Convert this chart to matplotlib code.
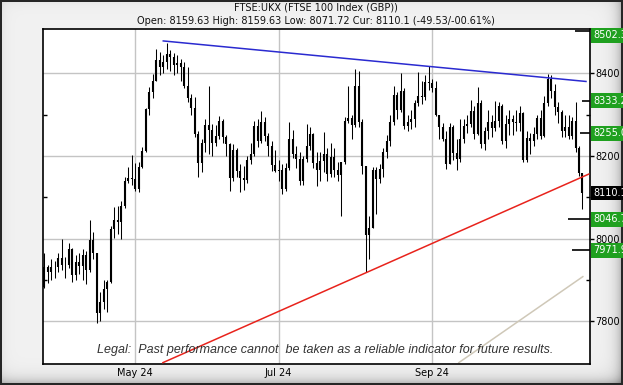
import numpy as np
import pandas as pd
import matplotlib
matplotlib.use("Agg")
import matplotlib.pyplot as plt
import matplotlib.transforms as mtransforms

# ---------------- data ----------------
holidays = ["2024-03-29", "2024-04-01", "2024-05-06", "2024-05-27", "2024-08-26"]
dates = pd.bdate_range("2024-03-22", "2024-10-31", freq="C", holidays=holidays)

opens = [7882, 7931, 7918, 7931, 7932, 7953, 7935, 7937, 7975, 7911,
         7943, 7934, 7961, 7924, 7996, 7965, 7820, 7847, 7877, 7896,
         8024, 8044, 8040, 8079, 8139, 8147, 8144, 8121, 8172, 8213,
         8313, 8354, 8381, 8433, 8415, 8428, 8446, 8439, 8420, 8424,
         8416, 8370, 8339, 8317, 8254, 8183, 8231, 8275, 8262, 8232,
         8247, 8285, 8245, 8228, 8147, 8215, 8163, 8146, 8142, 8191,
         8205, 8272, 8237, 8281, 8247, 8225, 8179, 8164, 8166, 8121,
         8171, 8241, 8204, 8193, 8139, 8193, 8223, 8253, 8182, 8165,
         8187, 8204, 8155, 8198, 8167, 8153, 8186, 8285, 8292, 8274,
         8368, 8283, 8175, 8008, 8026, 8166, 8145, 8168, 8210, 8235,
         8281, 8347, 8311, 8356, 8273, 8283, 8289, 8327, 8345, 8343,
         8379, 8377, 8364, 8298, 8269, 8241, 8181, 8271, 8206, 8193,
         8240, 8273, 8278, 8309, 8254, 8328, 8229, 8259, 8283, 8268,
         8284, 8320, 8237, 8276, 8290, 8282, 8280, 8303, 8191, 8243,
         8237, 8254, 8292, 8249, 8329, 8385, 8358, 8318, 8306, 8259,
         8269, 8248, 8285, 8220, 8159.63]
highs = [7964, 7936, 7950, 7945, 7966, 8000, 7955, 7990, 7978, 7960,
         7965, 7975, 7970, 8045, 8015, 7966, 7870, 7900, 7900, 8030,
         8076, 8080, 8090, 8149, 8173, 8202, 8183, 8185, 8221, 8315,
         8366, 8398, 8458, 8451, 8445, 8474, 8456, 8450, 8445, 8435,
         8426, 8414, 8350, 8342, 8260, 8240, 8290, 8370, 8277, 8275,
         8296, 8290, 8250, 8230, 8229, 8220, 8180, 8175, 8200, 8230,
         8284, 8290, 8309, 8295, 8255, 8236, 8215, 8190, 8180, 8182,
         8282, 8262, 8225, 8209, 8200, 8277, 8270, 8255, 8210, 8210,
         8258, 8220, 8230, 8220, 8185, 8173, 8294, 8368, 8300, 8410,
         8405, 8290, 8176, 8054, 8173, 8173, 8180, 8220, 8250, 8300,
         8368, 8354, 8400, 8365, 8300, 8310, 8335, 8402, 8380, 8395,
         8417, 8385, 8380, 8300, 8280, 8260, 8280, 8275, 8240, 8290,
         8290, 8300, 8335, 8320, 8367, 8335, 8270, 8310, 8300, 8332,
         8330, 8325, 8300, 8310, 8300, 8310, 8320, 8305, 8260, 8255,
         8270, 8300, 8310, 8345, 8398, 8395, 8375, 8330, 8310, 8300,
         8300, 8294, 8330, 8225, 8159.63]
lows = [7880, 7893, 7900, 7905, 7920, 7925, 7905, 7930, 7895, 7900,
        7915, 7900, 7890, 7920, 7950, 7796, 7800, 7830, 7822, 7893,
        8002, 8010, 8000, 8075, 8135, 8130, 8115, 8112, 8170, 8210,
        8300, 8340, 8380, 8395, 8400, 8410, 8405, 8395, 8400, 8380,
        8365, 8330, 8300, 8246, 8149, 8160, 8210, 8204, 8200, 8225,
        8240, 8230, 8200, 8116, 8140, 8149, 8112, 8118, 8135, 8180,
        8199, 8221, 8230, 8235, 8200, 8163, 8160, 8140, 8108, 8115,
        8165, 8195, 8170, 8130, 8130, 8185, 8215, 8170, 8127, 8140,
        8160, 8140, 8150, 8150, 8140, 8054, 8180, 8280, 8240, 8270,
        8270, 8156, 7919, 7951, 8026, 8060, 8135, 8150, 8195, 8225,
        8275, 8289, 8305, 8265, 8260, 8265, 8270, 8320, 8325, 8335,
        8360, 8355, 8296, 8240, 8235, 8168, 8180, 8190, 8165, 8185,
        8230, 8255, 8270, 8240, 8250, 8220, 8215, 8240, 8245, 8260,
        8270, 8228, 8220, 8250, 8250, 8260, 8260, 8185, 8185, 8205,
        8225, 8240, 8240, 8245, 8320, 8340, 8300, 8280, 8245, 8245,
        8240, 8240, 8209, 8151, 8071.72]
closes = [7931, 7918, 7931, 7932, 7953, 7935, 7937, 7975, 7911, 7943,
          7934, 7961, 7924, 7996, 7965, 7820, 7847, 7877, 7896, 8024,
          8044, 8040, 8079, 8139, 8147, 8144, 8121, 8172, 8213, 8313,
          8354, 8381, 8433, 8415, 8428, 8446, 8439, 8420, 8424, 8416,
          8370, 8339, 8317, 8254, 8183, 8231, 8275, 8262, 8232, 8247,
          8285, 8245, 8228, 8147, 8215, 8163, 8146, 8142, 8191, 8205,
          8272, 8237, 8281, 8247, 8225, 8179, 8164, 8166, 8121, 8171,
          8241, 8204, 8193, 8139, 8193, 8223, 8253, 8182, 8165, 8187,
          8204, 8155, 8198, 8167, 8153, 8186, 8285, 8292, 8274, 8368,
          8283, 8175, 8008, 8026, 8166, 8145, 8168, 8210, 8235, 8281,
          8347, 8311, 8356, 8273, 8283, 8289, 8327, 8345, 8343, 8379,
          8377, 8364, 8298, 8269, 8241, 8181, 8271, 8206, 8193, 8240,
          8273, 8278, 8309, 8254, 8328, 8229, 8259, 8283, 8268, 8284,
          8320, 8237, 8276, 8290, 8282, 8280, 8303, 8191, 8243, 8237,
          8254, 8292, 8249, 8329, 8385, 8358, 8318, 8306, 8259, 8269,
          8248, 8285, 8220, 8159.63, 8110.1]

tick_dates = ["2024-05-01", "2024-07-01", "2024-09-02"]
tick_labels = ["May 24", "Jul 24", "Sep 24"]
y_ticks = [7800, 8000, 8200, 8400]
y_minor = [7900, 8100, 8300]

# trend lines: (index, value) endpoints
resist_x = [34.0, 155.0]
resist_y = [8478, 8380]
support_x = [33.9, 155.8]
support_y = [7700, 8156]
channel_x = [118.6, 154.1]
channel_y = [7700, 7908]

# right-hand levels: value, label, line start index
level_vals = [8502.3, 8333.2, 8255.0, 8046.7, 7971.9]
level_text = ["8502.3", "8333.2", "8255.0", "8046.7", "7971.9"]
level_start = [151.8, 153.8, 153.3, 149.8, 151.0]
cur_val = 8110.1
cur_text = "8110.1"

title1 = "FTSE:UKX (FTSE 100 Index (GBP))"
title2 = "Open: 8159.63 High: 8159.63 Low: 8071.72 Cur: 8110.1 (-49.53/-00.61%)"
legal = "Legal:  Past performance cannot  be taken as a reliable indicator for future results."

# ---------------- figure ----------------
W, H = 623, 385
fig = plt.figure(figsize=(W / 100, H / 100), dpi=100)

# bevelled background
yy, xx = np.mgrid[0:H, 0:W].astype(float)
img = (0.945
       - 0.06 * np.exp(-xx / 5.0) - 0.05 * np.exp(-yy / 5.0)
       - 0.28 * np.exp(-(W - 1 - xx) / 6.0) - 0.28 * np.exp(-(H - 1 - yy) / 6.0))
img[:2, :] = 0.15
img[-2:, :] = 0.15
img[:, :2] = 0.15
img[:, -2:] = 0.15
bg = fig.add_axes([0, 0, 1, 1])
bg.imshow(img, cmap="gray", vmin=0, vmax=1, aspect="auto", interpolation="nearest")
bg.axis("off")

L, R, T, B = 42.5, 590.0, 28.7, 364.0
ax = fig.add_axes([L / W, 1 - B / H, (R - L) / W, (B - T) / H])
ax.set_facecolor("white")

x = np.arange(len(dates))
o = np.array(opens); h = np.array(highs); lo = np.array(lows); c = np.array(closes)
ax.vlines(x, lo, h, color="black", lw=0.75, zorder=3)
ax.vlines(x, np.minimum(o, c), np.maximum(o, c), color="black", lw=1.5, zorder=3)

xmin, xmax = -0.57, 156.15
ymin, ymax = 7696.7, 8507.6
ax.set_xlim(xmin, xmax)
ax.set_ylim(ymin, ymax)

tick_pos = [int(np.where(dates == pd.Timestamp(d))[0][0]) for d in tick_dates]
ax.set_xticks(tick_pos)
ax.set_xticklabels(tick_labels, fontsize=7, family="DejaVu Sans")
ax.tick_params(axis="x", length=0, pad=3)

ax.set_yticks(y_ticks)
ax.set_yticks(y_minor, minor=True)
ax.set_yticklabels([str(v) for v in y_ticks], fontsize=7, family="DejaVu Sans")
ax.tick_params(axis="y", which="major", left=False, right=True, labelleft=False,
               labelright=True, direction="out", length=3, width=1, pad=1)
ax.tick_params(axis="y", which="minor", left=True, right=True, direction="in",
               length=3, width=1)
ax.grid(True, which="major", color="#c4c4c4", lw=1.0, zorder=0)
ax.set_axisbelow(True)
for s in ax.spines.values():
    s.set_color("black")
    s.set_linewidth(1.2)

ax.plot(resist_x, resist_y, color="#2a2ad0", lw=1.1, zorder=4)
ax.plot(support_x, support_y, color="#e8231c", lw=1.1, zorder=4)
ax.plot(channel_x, channel_y, color="#cfc8b8", lw=1.1, zorder=2)

blend = mtransforms.blended_transform_factory(ax.transAxes, ax.transData)
green = "#1fa01f"
for v, t, xs in zip(level_vals, level_text, level_start):
    ax.hlines(v, xs, xmax, color="black", lw=1.2, zorder=5, clip_on=False)
    yv = min(v, ymax - 15.7)
    ax.text(1.006, yv, t, transform=blend, ha="left", va="center", fontsize=7,
            color="white", family="DejaVu Sans", clip_on=False,
            bbox=dict(boxstyle="square,pad=0.25", fc=green, ec="none"))
ax.text(1.006, cur_val, cur_text, transform=blend, ha="left", va="center", fontsize=7,
        color="white", family="DejaVu Sans", clip_on=False,
        bbox=dict(boxstyle="square,pad=0.25", fc="black", ec="none"))

cx = (L + R) / 2 / W
fig.text(cx, 1 - 8 / H, title1, ha="center", va="center", fontsize=7,
         family="DejaVu Sans", color="#111111")
fig.text(cx, 1 - 21.5 / H, title2, ha="center", va="center", fontsize=7,
         family="DejaVu Sans", color="#111111")
fig.text(325 / W, 1 - 350 / H, legal, ha="center", va="center", fontsize=9,
         family="Liberation Sans", style="italic", color="#333333", zorder=10)

fig.savefig("out.png", dpi=100)
